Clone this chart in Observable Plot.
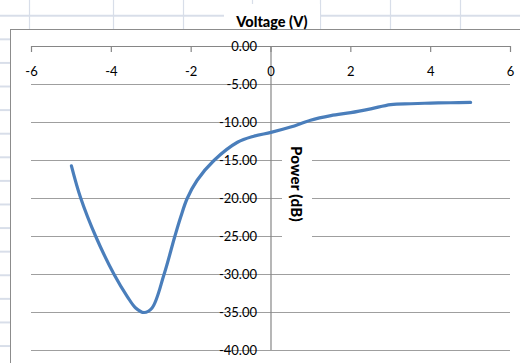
<!DOCTYPE html>
<html>
<head>
<meta charset="utf-8">
<script src="https://cdn.jsdelivr.net/npm/d3@7"></script>
<script src="https://cdn.jsdelivr.net/npm/@observablehq/plot@0.6"></script>
<style>
  html, body { margin: 0; padding: 0; }
  body {
    width: 520px; height: 363px; position: relative; overflow: hidden;
    background-color: #fff;
    background-image: repeating-linear-gradient(to bottom, transparent 0, transparent 15.2px, #d8dee9 15.2px, #d8dee9 16.4px, transparent 16.4px, transparent 23.6px);
    background-size: 100% 23.6px;
    font-family: Lato, "Open Sans", sans-serif;
  }
  #cols { position: absolute; left: 0; top: 0; width: 520px; height: 363px; }
  #area { position: absolute; left: 10px; top: 29px; width: 520px; height: 340px;
          background: #fff; border-left: 1.5px solid #8c8c8c; border-top: 1.5px solid #8c8c8c; }
  #title { position: absolute; left: 224px; top: 4px; width: 96px; height: 25px; background: #fff;
           text-align: center; font-weight: 900; font-size: 14.5px; line-height: 36px; color: #000; }
  #ylab { position: absolute; left: 282px; top: 131px; width: 30px; height: 106px; background: #fff;
          writing-mode: vertical-rl; text-align: center; font-weight: 900; font-size: 15px;
          line-height: 30px; color: #000; letter-spacing: 0.3px; }
  #chart { position: absolute; left: 0; top: 0; }
</style>
</head>
<body>
<svg id="cols" width="520" height="363"></svg>
<div id="area"></div>
<div id="chart"></div>
<div id="title">Voltage (V)</div>
<div id="ylab">Power (dB)</div>
<script>
// Measured curve (Voltage in V, Power in dB)
const voltage = [-5.0, -4.77, -4.39, -3.93, -3.6, -3.39, -3.18, -2.98, -2.68, -2.41, -2.26, -2.10, -1.85, -1.43, -0.84, -0.43, 0.0, 0.49, 0.99, 1.5, 2.0, 2.5, 3.0, 3.5, 4.0, 4.5, 5.0];
const power   = [-15.7, -19.9, -25.0, -30.0, -32.9, -34.4, -35.0, -34.4, -30.0, -25.0, -22.4, -20.0, -17.6, -15.0, -12.6, -11.8, -11.3, -10.6, -9.7, -9.1, -8.7, -8.2, -7.65, -7.53, -7.45, -7.4, -7.35];
const xTicks = [-6, -4, -2, 0, 2, 4, 6];
const yTicks = [0, -5, -10, -15, -20, -25, -30, -35, -40];
// spreadsheet column lines (background decoration)
const sheetCols = [29, 113, 183, 252, 320, 390, 460];

d3.select("#cols").selectAll("line").data(sheetCols).join("line")
  .attr("x1", d => d + 0.5).attr("x2", d => d + 0.5).attr("y1", 0).attr("y2", 363)
  .attr("stroke", "#d8dee9").attr("stroke-width", 1.2);

const data = voltage.map((v, i) => ({v, p: power[i]}));
const font = "Lato, 'Open Sans', sans-serif";

const chart = Plot.plot({
  width: 520,
  height: 363,
  marginLeft: 31,
  marginRight: 10,
  marginTop: 46,
  marginBottom: 13,
  x: {domain: [-6, 6], axis: null},
  y: {domain: [-40, 0], axis: null},
  style: {background: "transparent", fontFamily: font, overflow: "visible"},
  marks: [
    Plot.ruleY(yTicks.filter(d => d !== 0), {stroke: "#9f9f9f", strokeWidth: 1.2}),
    Plot.ruleY([0], {stroke: "#868686", strokeWidth: 1.2}),
    Plot.ruleX([0], {stroke: "#868686", strokeWidth: 1.2}),
    Plot.tickX(xTicks, {x: d => d, stroke: "#868686", strokeWidth: 1.2, insetBottom: 298}),
    Plot.text(yTicks, {x: 0, y: d => d, text: d => d.toFixed(2), dx: -14, textAnchor: "end",
      fontSize: 13, fill: "#000"}),
    Plot.text(xTicks, {x: d => d, y: 0, text: d => String(d), dy: 25, fontSize: 13, fill: "#000"}),
    Plot.line(data, {x: "v", y: "p", curve: "catmull-rom", stroke: "#4a7ebb", strokeWidth: 3.2,
      strokeLinecap: "round"})
  ]
});
document.getElementById("chart").append(chart);
</script>
</body>
</html>
